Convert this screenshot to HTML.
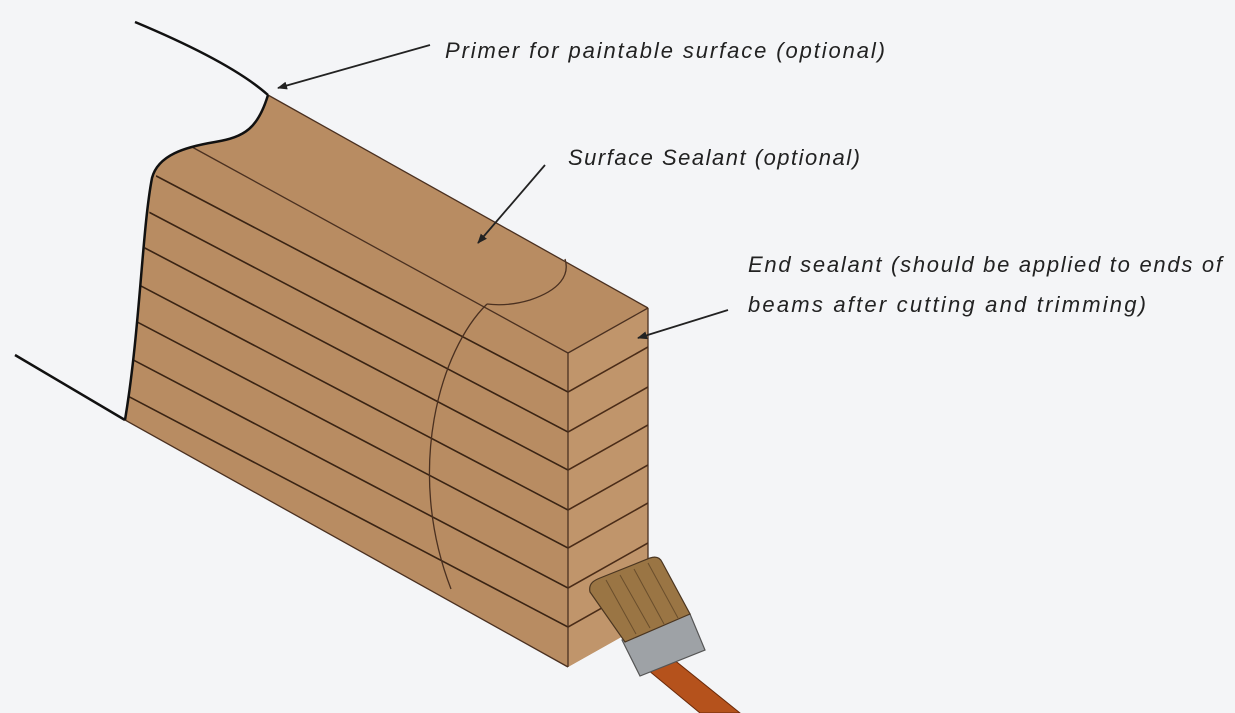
<!DOCTYPE html>
<html><head><meta charset="utf-8"><style>
html,body{margin:0;padding:0;background:#f4f5f7;}
svg{display:block}
text{font-family:"Liberation Sans",sans-serif;font-style:italic;font-size:22px;fill:#222}
</style></head><body>
<svg width="1235" height="713" viewBox="0 0 1235 713" xmlns="http://www.w3.org/2000/svg">
<defs>
<marker id="ah" markerWidth="10" markerHeight="8" refX="9" refY="4" orient="auto" markerUnits="userSpaceOnUse">
<path d="M0,0 L10,4 L0,8 Z" fill="#222"/></marker>
<clipPath id="front"><path d="M175,147 L568,353 L568,667 L125,420 C140,330 142,230 158,168 C163,155 170,150 175,147 Z"/></clipPath>
<clipPath id="endc"><path d="M568,353 L648,308 L648,622 L568,667 Z"/></clipPath>
</defs>
<path d="M135,22 C190,45 240,70 268,95" fill="none" stroke="#111" stroke-width="2.5"/>
<path d="M15,355 L125,420" fill="none" stroke="#111" stroke-width="2.5"/>
<path d="M268,95 L648,308 L648,622 L568,667 L125,420 C140,330 142,230 152,178 C158,155 185,147 215,142 C245,137 258,128 268,95 Z" fill="#b88c62"/>
<path d="M568,353 L648,308 L648,622 L568,667 Z" fill="#c0956b"/>
<g clip-path="url(#front)" stroke="#3a2414" stroke-width="1.6">
<line x1="0" y1="94" x2="568" y2="392"/>
<line x1="0" y1="134" x2="568" y2="432"/>
<line x1="0" y1="172" x2="568" y2="470"/>
<line x1="0" y1="212" x2="568" y2="510"/>
<line x1="0" y1="250" x2="568" y2="548"/>
<line x1="0" y1="290" x2="568" y2="588"/>
<line x1="0" y1="329" x2="568" y2="627"/>
</g>
<g clip-path="url(#endc)" stroke="#4a2c18" stroke-width="1.6">
<line x1="568" y1="392" x2="648" y2="347"/>
<line x1="568" y1="432" x2="648" y2="387"/>
<line x1="568" y1="470" x2="648" y2="425"/>
<line x1="568" y1="510" x2="648" y2="465"/>
<line x1="568" y1="548" x2="648" y2="503"/>
<line x1="568" y1="588" x2="648" y2="543"/>
<line x1="568" y1="627" x2="648" y2="582"/>
</g>
<g fill="none" stroke="#4a3020" stroke-width="1.3">
<line x1="192" y1="147" x2="568" y2="353"/>
<line x1="268" y1="95" x2="648" y2="308"/>
<line x1="568" y1="353" x2="648" y2="308"/>
<line x1="568" y1="353" x2="568" y2="667"/>
<line x1="648" y1="308" x2="648" y2="622"/>
<line x1="125" y1="420" x2="568" y2="667"/>
<path d="M565,259 C570,275 560,290 530,300 C510,306 495,305 487,304"/>
<path d="M487,304 C440,350 405,470 451,589"/>
</g>
<path d="M268,95 C258,128 245,137 215,142 C185,147 158,155 152,178 C142,230 140,330 125,420" fill="none" stroke="#111" stroke-width="2.5"/>
<path d="M642,665 L668,655 L740,713 L700,713 Z" fill="#b5521c" stroke="#6a2a0a" stroke-width="1"/>
<path d="M622,640 L690,614 L705,650 L640,676 Z" fill="#9ea2a6" stroke="#555" stroke-width="1.2"/>
<path d="M590,592 C588,583 595,580 600,578 L650,558 C656,556 660,558 662,562 L690,614 L625,642 Z" fill="#9a7544" stroke="#4a3520" stroke-width="1.2"/>
<g stroke="#6a4e2c" stroke-width="1">
<line x1="606" y1="580" x2="636" y2="634"/><line x1="620" y1="575" x2="650" y2="628"/>
<line x1="634" y1="569" x2="664" y2="624"/><line x1="648" y1="563" x2="678" y2="618"/>
</g>
<g stroke="#222" stroke-width="1.8" fill="none">
<line x1="430" y1="45" x2="278" y2="88" marker-end="url(#ah)"/>
<line x1="545" y1="165" x2="478" y2="243" marker-end="url(#ah)"/>
<line x1="728" y1="310" x2="638" y2="338" marker-end="url(#ah)"/>
</g>
<text x="445" y="58" textLength="440" lengthAdjust="spacing">Primer for paintable surface (optional)</text>
<text x="568" y="165" textLength="292" lengthAdjust="spacing">Surface Sealant (optional)</text>
<text x="748" y="272" textLength="474" lengthAdjust="spacing">End sealant (should be applied to ends of</text>
<text x="748" y="312" textLength="398" lengthAdjust="spacing">beams after cutting and trimming)</text>
</svg>
</body></html>
